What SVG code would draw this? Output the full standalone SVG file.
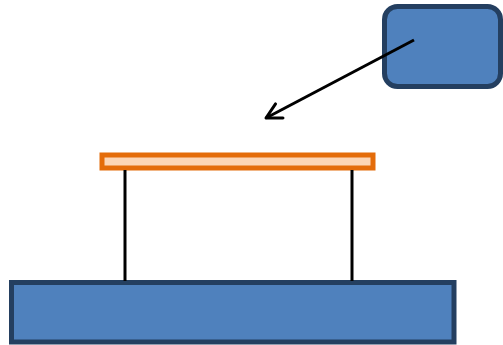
<svg xmlns="http://www.w3.org/2000/svg" width="503" height="345" viewBox="0 0 503 345">
<style>
.blue{fill:#4F81BD;stroke:#243F60;stroke-width:5}
.post{stroke:#000;stroke-width:3;fill:none}
</style>
<defs>
<marker id="arr" viewBox="0 0 20 20" refX="18" refY="10" markerWidth="20" markerHeight="20" markerUnits="userSpaceOnUse" orient="auto">
<path d="M3,2 L18,10 L3,18" fill="none" stroke="#000" stroke-width="3" stroke-linecap="round" stroke-linejoin="round"/>
</marker>
</defs>
<g id="box-top">
<rect class="blue" x="384.5" y="6.5" width="116" height="80" rx="13"/>
</g>
<g id="base">
<rect class="blue" x="11.5" y="282.5" width="442.5" height="59.5"/>
</g>
<g id="plate">
<rect x="102" y="155" width="271" height="13" fill="#FCD5B5" stroke="#E46C0A" stroke-width="5"/>
</g>
<g id="connectors">
<line class="post" x1="125" y1="170" x2="125" y2="281"/>
<line class="post" x1="352" y1="170" x2="352" y2="281"/>
<line x1="414" y1="40" x2="266" y2="118" stroke="#000" stroke-width="3" marker-end="url(#arr)"/>
</g>
</svg>
